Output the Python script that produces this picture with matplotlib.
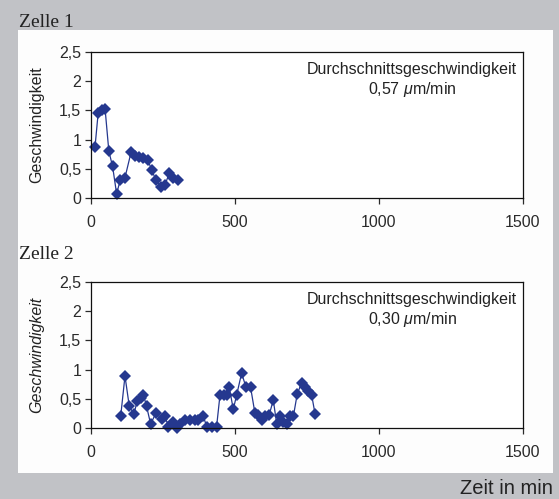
import matplotlib
matplotlib.use("Agg")
import matplotlib.pyplot as plt
from matplotlib.patches import Rectangle

# Cell 1 speed over time
zelle1_zeit = [14, 25, 37, 49, 62, 75, 89, 101, 118, 139, 153, 167, 182, 197,
               211, 225, 243, 257, 271, 286, 303]
zelle1_v = [0.88, 1.46, 1.50, 1.52, 0.80, 0.54, 0.07, 0.30, 0.35, 0.78, 0.72,
            0.70, 0.68, 0.65, 0.48, 0.31, 0.19, 0.22, 0.42, 0.35, 0.31]

# Cell 2 speed over time
zelle2_zeit = [103, 118, 133, 149, 161, 172, 182, 193, 207, 226, 245, 257, 269,
               284, 297, 309, 326, 344, 361, 373, 390, 402, 419, 436, 448, 462,
               471, 480, 494, 506, 523, 538, 554, 569, 581, 593, 604, 619, 633,
               645, 656, 668, 679, 691, 703, 716, 731, 743, 755, 766, 778]
zelle2_v = [0.20, 0.89, 0.37, 0.24, 0.47, 0.52, 0.57, 0.37, 0.07, 0.26, 0.15,
            0.20, 0.02, 0.10, 0.00, 0.07, 0.13, 0.13, 0.13, 0.13, 0.20, 0.02,
            0.02, 0.02, 0.57, 0.57, 0.57, 0.70, 0.32, 0.57, 0.94, 0.70, 0.70,
            0.26, 0.23, 0.14, 0.21, 0.23, 0.48, 0.06, 0.21, 0.11, 0.06, 0.20,
            0.21, 0.58, 0.77, 0.71, 0.64, 0.57, 0.24]

titel = ["Zelle 1", "Zelle 2"]
mittel_text = ["Durchschnittsgeschwindigkeit\n0,57 $\\mu$m/min",
               "Durchschnittsgeschwindigkeit\n0,30 $\\mu$m/min"]
y_ticks = [0, 0.5, 1, 1.5, 2, 2.5]
y_tick_labels = ["0", "0,5", "1", "1,5", "2", "2,5"]
x_ticks = [0, 500, 1000, 1500]
x_tick_labels = ["0", "500", "1000", "1500"]

plt.rcParams['font.family'] = ['Liberation Sans', 'DejaVu Sans']
plt.rcParams['mathtext.fontset'] = 'custom'
plt.rcParams['mathtext.it'] = 'Liberation Sans:italic'
plt.rcParams['mathtext.rm'] = 'Liberation Sans'

W, H = 559, 499
fig = plt.figure(figsize=(W / 100, H / 100), dpi=100)
fig.patch.set_facecolor('#c1c2c6')

# white panel behind both charts
panel = Rectangle((18 / W, 1 - 473 / H), 535 / W, 443 / H,
                  transform=fig.transFigure, facecolor='#fdfdfd',
                  edgecolor='none', zorder=-10)
fig.add_artist(panel)

farbe = '#25388f'
serien = [(zelle1_zeit, zelle1_v), (zelle2_zeit, zelle2_v)]
oben_px = [52, 282]
titel_y = [27, 259]

for i, (zeit, v) in enumerate(serien):
    top = oben_px[i]
    ax = fig.add_axes([91 / W, 1 - (top + 146) / H, 432 / W, 146 / H])
    ax.set_facecolor('white')
    ax.plot(zeit, v, color=farbe, lw=0.9, marker='D', markersize=5.9,
            markeredgewidth=0, clip_on=False)
    ax.set_xlim(0, 1500)
    ax.set_ylim(0, 2.5)
    ax.set_yticks(y_ticks)
    ax.set_yticklabels(y_tick_labels)
    ax.set_xticks(x_ticks)
    ax.set_xticklabels(x_tick_labels)
    ax.tick_params(axis='y', direction='out', length=4, width=0.9, pad=3,
                   labelsize=11.5, colors='#2a2a2a')
    ax.tick_params(axis='x', direction='out', length=4, width=0.9, pad=8,
                   labelsize=11.5, colors='#2a2a2a')
    for s in ax.spines.values():
        s.set_linewidth(0.9)
        s.set_color('#111111')
    ax.set_ylabel("Geschwindigkeit", fontsize=11.5, color='#222222',
                  style='italic' if i == 1 else 'normal')
    ax.yaxis.set_label_coords(-47 / 432, 0.5)
    ax.text(0.743, 0.93, mittel_text[i], transform=ax.transAxes, ha='center',
            va='top', fontsize=11.5, color='#222222', linespacing=1.2)
    fig.text(19 / W, 1 - titel_y[i] / H, titel[i], family='Liberation Serif',
             fontsize=14, color='#222222', va='baseline', ha='left')

fig.text(553 / W, 1 - 494 / H, "Zeit in min", fontsize=14.5, color='#222222',
         ha='right', va='baseline')

fig.savefig("out.png", dpi=100, facecolor=fig.get_facecolor())
